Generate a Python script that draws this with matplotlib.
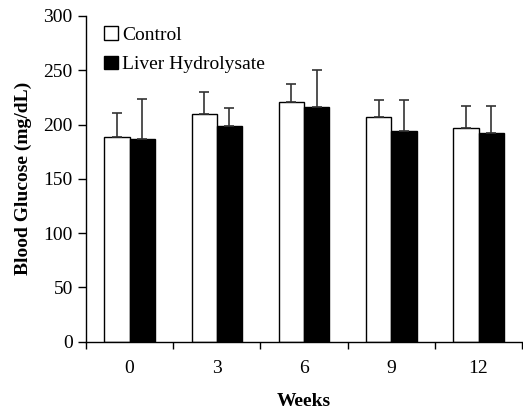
import numpy as np
import matplotlib
matplotlib.use("Agg")
import matplotlib.pyplot as plt

weeks = ["0", "3", "6", "9", "12"]
control = [189, 210, 221, 207, 197]
control_err = [22, 20, 16, 16, 20]
liver = [187, 199, 216, 194, 192]
liver_err = [37, 16, 34, 29, 25]

plt.rcParams['font.family'] = ['Liberation Serif', 'DejaVu Serif']
plt.rcParams['font.size'] = 14

fig = plt.figure(figsize=(5.23, 4.13), dpi=100)
ax = fig.add_axes([0.1644, 0.1726, 0.834, 0.7887])

ind = np.arange(len(weeks))
w = 0.29
ax.bar(ind - w / 2, control, w, color='white', edgecolor='black', linewidth=1.0,
       yerr=[np.zeros(len(weeks)), control_err], ecolor='#333333',
       error_kw=dict(capsize=3.5, elinewidth=1.2, capthick=1.2), label='Control', zorder=2)
ax.bar(ind + w / 2, liver, w, color='black', edgecolor='black', linewidth=1.0,
       yerr=[np.zeros(len(weeks)), liver_err], ecolor='#333333',
       error_kw=dict(capsize=3.5, elinewidth=1.2, capthick=1.2), label='Liver Hydrolysate', zorder=2)

ax.set_xlim(-0.5, len(weeks) - 0.5)
ax.set_ylim(0, 300)
ax.set_yticks(np.arange(0, 301, 50))
ax.set_xticks(ind)
ax.set_xticklabels(weeks)
ax.set_xticks(np.arange(-0.5, len(weeks)), minor=True)
ax.tick_params(axis='x', which='major', length=0, pad=13)
ax.tick_params(axis='x', which='minor', length=5, direction='out', width=1)
ax.tick_params(axis='y', length=6, direction='out', width=1)

for s in ['top', 'right']:
    ax.spines[s].set_visible(False)
ax.spines['left'].set_linewidth(1)
ax.spines['bottom'].set_linewidth(1)

ax.set_ylabel('Blood Glucose (mg/dL)', fontweight='bold', labelpad=8)
ax.set_xlabel('Weeks', fontweight='bold', labelpad=12)

ax.legend(loc='upper left', frameon=False, handlelength=0.7, handleheight=0.7,
          handletextpad=0.2, labelspacing=0.6, bbox_to_anchor=(0.002, 1.022))

plt.savefig("out.png", dpi=100)
